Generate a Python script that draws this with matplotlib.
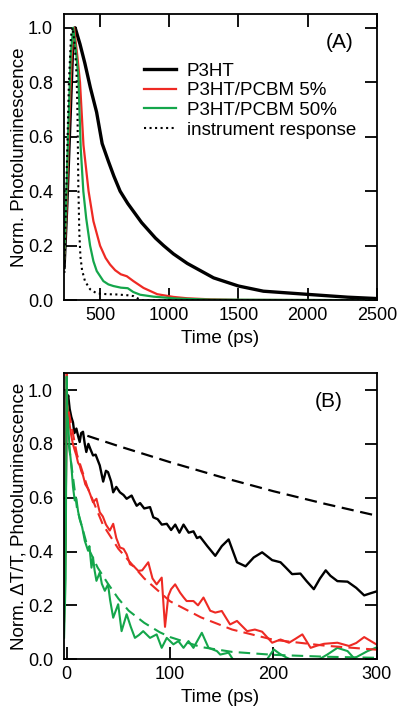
'''Photoluminescence and transient absorption decay comparison.

Two stacked panels: (A) time resolved photoluminescence of P3HT films,
(B) normalised transient absorption with photoluminescence fits.
'''

# ----------------------------------------------------------------------------
# Modules
from matplotlib import pyplot as plt

plt.rcParams['font.family'] = ['Liberation Sans', 'DejaVu Sans']

RED = '#ee2a24'
GREEN = '#14a64b'

# ----------------------------------------------------------------------------
# Data, panel (A)

pl_t_p3ht = [240, 260, 280, 300, 320, 355, 390, 430, 475, 515, 560, 600, 645,
             700, 800, 900, 960, 1030, 1130, 1320, 1500, 1680, 2010, 2290,
             2500]
pl_p3ht = [0.12, 0.35, 0.62, 0.9, 1.0, 0.94, 0.87, 0.78, 0.69, 0.575, 0.51,
           0.455, 0.40, 0.355, 0.285, 0.228, 0.2, 0.17, 0.135, 0.082, 0.052,
           0.033, 0.021, 0.011, 0.006]

pl_t_5 = [240, 255, 275, 295, 312, 335, 355, 380, 417, 452, 500, 540, 572,
          609, 650, 693, 741, 814, 913, 1030, 1130, 1300, 1500, 2500]
pl_5 = [0.15, 0.3, 0.62, 0.9, 1.0, 0.9, 0.8, 0.57, 0.40, 0.29, 0.2, 0.155,
        0.131, 0.11, 0.095, 0.088, 0.07, 0.045, 0.022, 0.012, 0.007, 0.003,
        0.001, 0.0]

pl_t_50 = [240, 255, 270, 288, 306, 325, 343, 360, 379, 400, 428, 452, 476,
           524, 560, 596, 650, 700, 740, 790, 886, 1055, 1300, 2500]
pl_50 = [0.15, 0.35, 0.62, 0.9, 1.0, 0.92, 0.82, 0.56, 0.40, 0.3, 0.2, 0.143,
         0.107, 0.07, 0.058, 0.052, 0.046, 0.044, 0.03, 0.02, 0.013, 0.006,
         0.002, 0.0]

irf_t = [242, 258, 275, 290, 302, 318, 331, 337, 343, 350, 358, 370, 391, 428,
         476, 550, 621, 700, 741, 770, 800, 2500]
irf = [0.1, 0.45, 0.8, 0.97, 1.0, 0.93, 0.82, 0.68, 0.42, 0.25, 0.16, 0.11,
       0.07, 0.04, 0.025, 0.022, 0.021, 0.018, 0.015, 0.007, 0.0, 0.0]

# ----------------------------------------------------------------------------
# Data, panel (B)

ta_t_p3ht = [-2.5, -1, 0, 0.5, 1.5, 2.9, 4.5, 6.1, 7.5, 9.4, 11, 12.6, 14,
             15.8, 17.5, 19, 21, 23, 25.5, 28, 30, 32, 35.3, 38, 40, 43, 45,
             48, 51.5, 55, 58, 62.8, 65, 67.7, 71, 75, 80.6, 83.8, 88, 92,
             96.8, 101, 105, 109, 113, 118, 122.6, 126, 129, 136, 143.7, 150,
             156.6, 164.7, 173, 180.9, 189, 198.7, 206.8, 212, 218, 226, 232,
             239, 245, 250.5, 255, 261.8, 271.6, 280, 287.7, 294, 300.7]
ta_p3ht = [0.2, 0.55, 1.0, 0.96, 0.98, 0.93, 0.9, 0.88, 0.84, 0.857, 0.83,
           0.807, 0.84, 0.845, 0.80, 0.77, 0.80, 0.78, 0.757, 0.76, 0.74,
           0.72, 0.66, 0.70, 0.695, 0.66, 0.62, 0.64, 0.62, 0.61, 0.596,
           0.608, 0.59, 0.57, 0.58, 0.56, 0.565, 0.527, 0.52, 0.50, 0.503,
           0.48, 0.50, 0.47, 0.50, 0.47, 0.475, 0.45, 0.455, 0.42, 0.384,
           0.42, 0.445, 0.36, 0.345, 0.378, 0.397, 0.368, 0.36, 0.34, 0.316,
           0.318, 0.29, 0.26, 0.30, 0.33, 0.31, 0.29, 0.288, 0.265, 0.237,
           0.245, 0.253]

ta_t_5 = [-2.5, -1, 0, 0.5, 1.5, 2.9, 4.5, 6, 7.5, 9.4, 11, 12.6, 14, 15.8,
          18, 20.7, 23, 25.5, 28.8, 32, 35, 38, 41.7, 45, 48, 51.5, 55, 58,
          61.2, 65, 69.2, 73, 78.9, 83, 87, 91.9, 95.1, 98.3, 101, 104.9,
          109.7, 113, 116, 122.6, 127, 132.3, 138.8, 143.7, 150, 158, 164.7,
          174.5, 182, 189, 198.7, 206.8, 215, 221, 227.9, 235.9, 242, 248.8,
          261.8, 273, 280, 287.7, 302]
ta_5 = [0.14, 0.45, 1.07, 0.95, 0.92, 0.87, 0.83, 0.80, 0.78, 0.757, 0.73,
        0.72, 0.70, 0.683, 0.65, 0.633, 0.61, 0.583, 0.596, 0.546, 0.53, 0.50,
        0.478, 0.503, 0.45, 0.415, 0.41, 0.39, 0.353, 0.345, 0.328, 0.33,
        0.36, 0.30, 0.278, 0.303, 0.12, 0.235, 0.26, 0.278, 0.247, 0.23,
        0.216, 0.216, 0.20, 0.229, 0.18, 0.173, 0.179, 0.129, 0.142, 0.104,
        0.11, 0.102, 0.061, 0.073, 0.061, 0.075, 0.092, 0.042, 0.05, 0.057,
        0.061, 0.049, 0.06, 0.082, 0.049]

ta_t_50 = [-2.5, -1, 0, 0.5, 1.3, 2.9, 4.5, 6.1, 7.8, 9.4, 11, 12.6, 15,
           17.5, 20.7, 22, 24, 25.5, 27, 28.8, 32, 34, 36.9, 40, 42, 45, 49.8,
           53.1, 58, 62, 66, 70, 74, 80.6, 87, 91.9, 96.8, 103.2, 108, 113,
           117.8, 122.6, 130.7, 137.2, 145.3, 148.5, 156.6, 161.5, 170, 185,
           193, 200.3, 206, 213, 222, 240, 252, 261.8, 271.6, 278, 291, 302]
ta_50 = [0.08, 0.3, 1.05, 0.95, 0.88, 0.78, 0.72, 0.64, 0.59, 0.596, 0.55,
         0.52, 0.49, 0.44, 0.403, 0.42, 0.34, 0.378, 0.33, 0.291, 0.322, 0.28,
         0.254, 0.278, 0.22, 0.154, 0.204, 0.104, 0.167, 0.12, 0.079, 0.09,
         0.104, 0.079, 0.092, 0.042, 0.079, 0.055, 0.067, 0.042, 0.067, 0.042,
         0.098, 0.042, 0.03, 0.017, 0.024, -0.005, -0.02, -0.02, -0.005,
         0.036, 0.02, 0.005, -0.01, -0.01, 0.017, 0.042, 0.03, 0.003, 0.03,
         0.047]

# Photoluminescence fits (dashed)
fit_t_p3ht = [20, 50, 100, 150, 200, 250, 300]
fit_p3ht = [0.83, 0.792, 0.732, 0.676, 0.624, 0.577, 0.533]

fit_t_5 = [2, 10, 20, 35, 50, 75, 100, 130, 160, 200, 250, 300]
fit_5 = [0.92, 0.76, 0.64, 0.50, 0.41, 0.30, 0.215, 0.155, 0.11, 0.072,
         0.05, 0.035]

fit_t_50 = [2, 10, 20, 30, 40, 50, 60, 75, 90, 100, 130, 160, 200, 250, 300]
fit_50 = [0.8, 0.56, 0.42, 0.34, 0.28, 0.225, 0.18, 0.135, 0.10, 0.082,
          0.045, 0.027, 0.016, 0.009, 0.005]

# ----------------------------------------------------------------------------


def style_axis(ax, top_ticks):
    """Igor-like frame: inward ticks on the left, bottom and right."""

    for spine in ax.spines.values():
        spine.set_linewidth(1.3)
    ax.tick_params(direction='in', length=9, width=1.3, top=top_ticks,
                   right=True, labelsize=13, pad=8)
    ax.tick_params(axis='x', pad=5)

    return None

# ----------------------------------------------------------------------------


def pl_plot(ax):
    """Plots panel (A)."""

    ax.plot(pl_t_p3ht, pl_p3ht, color='black', linewidth=2.4, label='P3HT')
    ax.plot(pl_t_5, pl_5, color=RED, linewidth=1.6, label='P3HT/PCBM 5%')
    ax.plot(pl_t_50, pl_50, color=GREEN, linewidth=1.6,
            label='P3HT/PCBM 50%')
    ax.plot(irf_t, irf, color='black', linestyle=':', linewidth=1.5,
            label='instrument response')

    ax.set_xlim(240, 2500)
    ax.set_ylim(0, 1.05)
    ax.set_xticks([500, 1000, 1500, 2000, 2500])
    ax.set_yticks([0.0, 0.2, 0.4, 0.6, 0.8, 1.0])
    ax.set_xlabel('Time (ps)', fontsize=13.5, labelpad=4)
    ax.set_ylabel('Norm. Photoluminescence', fontsize=13.5, labelpad=0)
    style_axis(ax, True)

    ax.legend(loc='upper left', bbox_to_anchor=(0.255, 0.83),
              frameon=False, fontsize=13.5, handlelength=1.7,
              handletextpad=0.6, labelspacing=0.13, borderpad=0,
              borderaxespad=0)
    ax.text(0.882, 0.90, '(A)', transform=ax.transAxes, fontsize=15,
            ha='center', va='center')

    return None

# ----------------------------------------------------------------------------


def ta_plot(ax):
    """Plots panel (B)."""

    ax.plot(ta_t_p3ht, ta_p3ht, color='black', linewidth=1.7)
    ax.plot(ta_t_5, ta_5, color=RED, linewidth=1.5)
    ax.plot(ta_t_50, ta_50, color=GREEN, linewidth=1.5)
    ax.plot(fit_t_p3ht, fit_p3ht, color='black', linestyle=(0, (5.5, 3)),
            linewidth=1.6)
    ax.plot(fit_t_5, fit_5, color=RED, linestyle=(0, (5.5, 3)),
            linewidth=1.5)
    ax.plot(fit_t_50, fit_50, color=GREEN, linestyle=(0, (5.5, 3)),
            linewidth=1.5)

    ax.set_xlim(-2.5, 300)
    ax.set_ylim(0, 1.063)
    ax.set_xticks([0, 100, 200, 300])
    ax.set_yticks([0.0, 0.2, 0.4, 0.6, 0.8, 1.0])
    ax.set_xlabel('Time (ps)', fontsize=13.5, labelpad=4)
    ax.set_ylabel('Norm. \u0394T/T, Photoluminescence', fontsize=13.5,
                  labelpad=0)
    style_axis(ax, False)

    ax.text(0.847, 0.90, '(B)', transform=ax.transAxes, fontsize=15,
            ha='center', va='center')

    return None

# ----------------------------------------------------------------------------


def main():
    """Builds the figure and saves it as out.png."""

    figure = plt.figure(figsize=(3.98, 7.08), dpi=100)
    ax_a = figure.add_axes([0.161, 0.576, 0.786, 0.404])
    ax_b = figure.add_axes([0.161, 0.069, 0.786, 0.404])

    pl_plot(ax_a)
    ta_plot(ax_b)

    plt.savefig('out.png', dpi=100)

    return None

# ----------------------------------------------------------------------------


if __name__ == '__main__':
    main()
